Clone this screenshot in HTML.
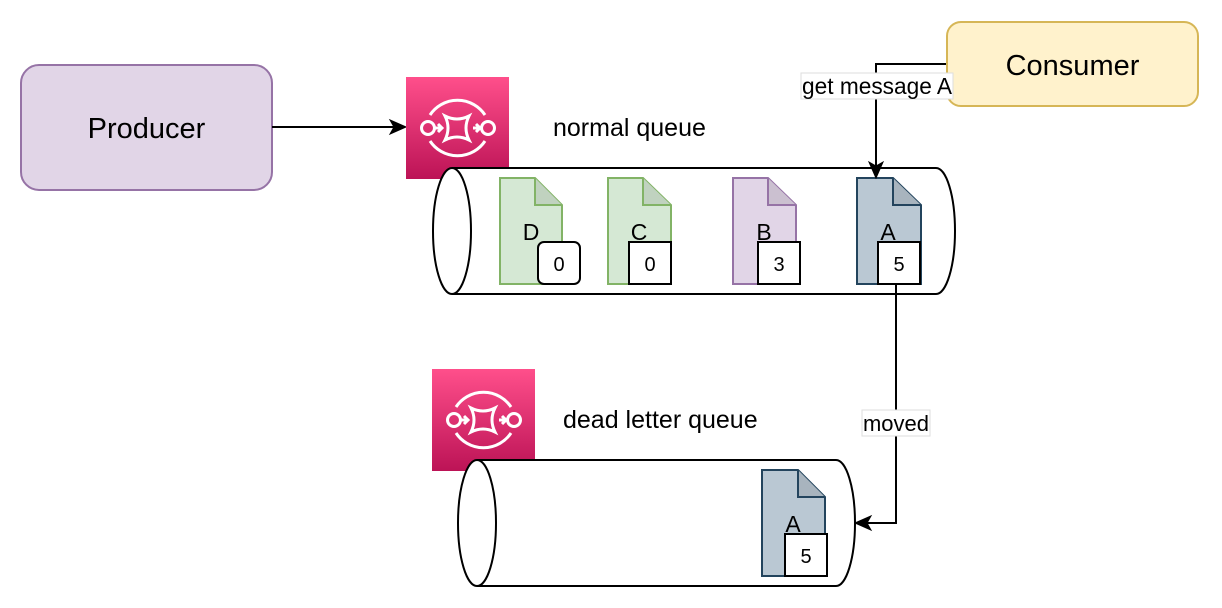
<!DOCTYPE html>
<html><head><meta charset="utf-8"><style>
html,body{margin:0;padding:0;background:#fff;}
svg{display:block;font-family:"Liberation Sans",Arial,sans-serif;}
</style></head><body>
<svg width="1222" height="608" viewBox="0 0 1222 608" xmlns="http://www.w3.org/2000/svg">
<defs>
<linearGradient id="pg" x1="0" y1="0" x2="0" y2="1">
<stop offset="0" stop-color="#ff4f8b"/><stop offset="1" stop-color="#bc1356"/></linearGradient>
<g id="sqs">
<rect x="0" y="0" width="103" height="102" fill="url(#pg)"/>
<g fill="none" stroke="#fff" stroke-width="3">
<path d="M24,38 A33,33 0 0 1 79,38"/>
<path d="M24,64 A33,33 0 0 0 79,64"/>
<circle cx="22" cy="51" r="6.5"/>
<circle cx="82" cy="51" r="6.5"/>
<path d="M39,39 Q51,45 63,39 Q57,51 63,63 Q51,57 39,63 Q45,51 39,39 Z"/>
<path d="M29,51 H36 M32,47 L36,51 L32,55"/>
<path d="M67,51 H74 M70,47 L74,51 L70,55"/>
</g>
</g>
</defs>

<!-- Producer -->
<rect x="21" y="65" width="251" height="125" rx="18" fill="#e1d5e7" stroke="#9673a6" stroke-width="2"/>
<text x="146.5" y="138" font-size="29" text-anchor="middle">Producer</text>
<line x1="272" y1="127" x2="394" y2="127" stroke="#000" stroke-width="2"/>
<path d="M406,127 L390,120 L394,127 L390,134 Z" fill="#000" stroke="#000"/>

<!-- normal queue -->
<use href="#sqs" x="406" y="77"/>
<text x="553" y="136" font-size="25">normal queue</text>
<path d="M452,168 H936 A19,63 0 0 1 936,294 H452" fill="#fff" stroke="#000" stroke-width="2"/>
<ellipse cx="452" cy="231" rx="19" ry="63" fill="#fff" stroke="#000" stroke-width="2"/>

<!-- docs -->
<g stroke-width="2">
<path d="M500,178 H535 L562,205 V284 H500 Z" fill="#d5e8d4" stroke="#82b366"/>
<path d="M535,178 V205 H562" fill="#c0d2bf" stroke="#82b366"/>
<path d="M608,178 H643 L671,205 V284 H608 Z" fill="#d5e8d4" stroke="#82b366"/>
<path d="M643,178 V205 H671" fill="#c0d2bf" stroke="#82b366"/>
<path d="M733,178 H768 L796,205 V284 H733 Z" fill="#e1d5e7" stroke="#9673a6"/>
<path d="M768,178 V205 H796" fill="#cbc0d0" stroke="#9673a6"/>
<path d="M857,178 H893 L921,205 V284 H857 Z" fill="#bac8d3" stroke="#23445d"/>
<path d="M893,178 V205 H921" fill="#a8b4be" stroke="#23445d"/>
</g>
<g font-size="23" text-anchor="middle">
<text x="531" y="240">D</text><text x="639" y="240">C</text><text x="764" y="240">B</text><text x="888" y="240">A</text>
</g>
<g fill="#fff" stroke="#000" stroke-width="2">
<rect x="538" y="242" width="42" height="42" rx="6"/>
<rect x="629" y="242" width="42" height="42"/>
<rect x="758" y="242" width="42" height="42"/>
<rect x="878" y="242" width="42" height="42"/>
</g>
<g font-size="20" text-anchor="middle">
<text x="559" y="271">0</text><text x="650" y="271">0</text><text x="779" y="271">3</text><text x="899" y="271">5</text>
</g>

<!-- consumer connector -->
<path d="M947,64 H876 V166" fill="none" stroke="#000" stroke-width="2"/>
<path d="M876,178 L869,162 L876,166 L883,162 Z" fill="#000" stroke="#000"/>
<rect x="947" y="22" width="251" height="84" rx="14" fill="#fff2cc" stroke="#d6b656" stroke-width="2"/>
<text x="1072.5" y="75" font-size="29" text-anchor="middle">Consumer</text>
<rect x="801" y="73" width="152" height="26" fill="#fff" stroke="#ddd" stroke-width="1"/>
<text x="802" y="94" font-size="23" textLength="150" lengthAdjust="spacingAndGlyphs">get message A</text>

<!-- dead letter queue -->
<use href="#sqs" x="432" y="369"/>
<text x="563" y="428" font-size="25">dead letter queue</text>
<path d="M477,460 H836 A19,63 0 0 1 836,586 H477" fill="#fff" stroke="#000" stroke-width="2"/>
<ellipse cx="477" cy="523" rx="19" ry="63" fill="#fff" stroke="#000" stroke-width="2"/>
<g stroke-width="2">
<path d="M762,470 H798 L825,497 V576 H762 Z" fill="#bac8d3" stroke="#23445d"/>
<path d="M798,470 V497 H825" fill="#a8b4be" stroke="#23445d"/>
</g>
<text x="793" y="532" font-size="23" text-anchor="middle">A</text>
<rect x="785" y="534" width="42" height="42" fill="#fff" stroke="#000" stroke-width="2"/>
<text x="806" y="563" font-size="20" text-anchor="middle">5</text>

<!-- moved connector -->
<path d="M896,284 V523 H867" fill="none" stroke="#000" stroke-width="2"/>
<path d="M855,523 L871,516 L867,523 L871,530 Z" fill="#000" stroke="#000"/>
<rect x="862" y="410" width="68" height="26" fill="#fff" stroke="#ddd" stroke-width="1"/>
<text x="896" y="431" font-size="22" text-anchor="middle">moved</text>
</svg>
</body></html>
